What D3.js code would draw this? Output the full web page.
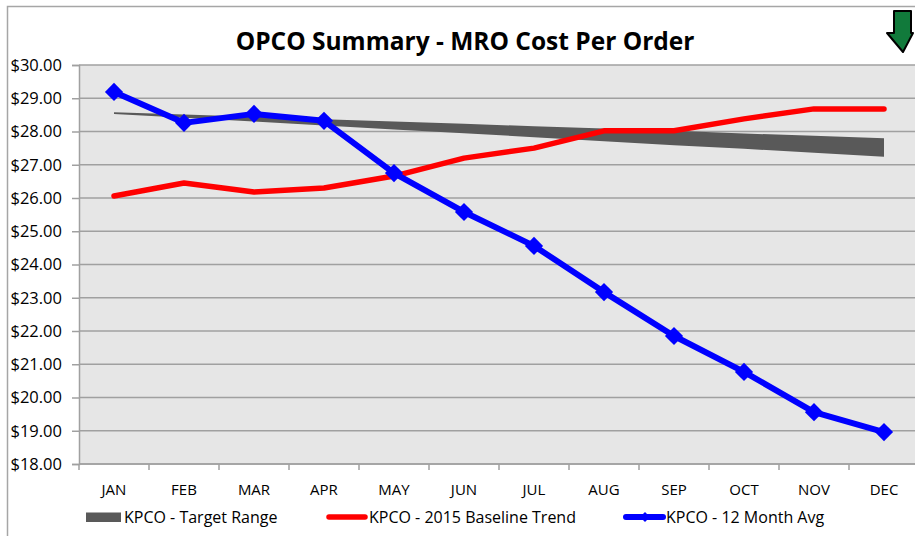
<!DOCTYPE html>
<html lang="en">
<head>
<meta charset="UTF-8">
<title>OPCO Summary - MRO Cost Per Order</title>
<script src="https://d3js.org/d3.v7.min.js"></script>
<style>
  body { margin: 0; background: #fff; }
  svg { display: block; }
</style>
</head>
<body>
<div id="chart"></div>
<script>
// data
var months = ["JAN","FEB","MAR","APR","MAY","JUN","JUL","AUG","SEP","OCT","NOV","DEC"];
var avg12 = [29.19, 28.26, 28.53, 28.32, 26.75, 25.58, 24.56, 23.17, 21.85, 20.77, 19.56, 18.96];
var baseline = [26.06, 26.45, 26.18, 26.30, 26.66, 27.20, 27.50, 28.02, 28.02, 28.38, 28.68, 28.68];
var targetLow = [28.53, 28.41, 28.30, 28.18, 28.06, 27.95, 27.83, 27.71, 27.59, 27.48, 27.36, 27.24];
var targetHigh = [28.58, 28.51, 28.44, 28.37, 28.30, 28.23, 28.16, 28.09, 28.02, 27.94, 27.87, 27.80];
var yTicks = [18, 19, 20, 21, 22, 23, 24, 25, 26, 27, 28, 29, 30];
var legendNames = ["KPCO - Target Range", "KPCO - 2015 Baseline Trend", "KPCO - 12 Month Avg"];

var W = 915, H = 536;
var margin = {top: 65, right: -4, bottom: 72, left: 79},
  width = W - margin.left - margin.right,
  height = H - margin.top - margin.bottom;

var svg = d3.select("#chart").append("svg")
  .attr("width", W)
  .attr("height", H);

// outer chart border
svg.append("rect")
  .attr("x", 7.5).attr("y", 6.5)
  .attr("width", W + 20).attr("height", H + 20)
  .attr("fill", "#fff")
  .attr("stroke", "#a6a6a6")
  .attr("stroke-width", 1.5);

var g = svg.append("g")
  .attr("transform", "translate(" + margin.left + "," + margin.top + ")");

var x = d3.scaleBand().domain(months).range([0, width]);
var y = d3.scaleLinear().domain([18, 30]).range([height, 0]);
var cx = function(d, i) { return x(months[i]) + x.bandwidth() / 2; };

// plot background
g.append("rect")
  .attr("width", width).attr("height", height)
  .attr("fill", "#e6e6e6");

// gridlines
g.selectAll(".grid")
  .data(yTicks)
  .enter().append("line")
  .attr("x1", 0).attr("x2", width)
  .attr("y1", function(d) { return y(d); })
  .attr("y2", function(d) { return y(d); })
  .attr("stroke", "#a0a0a0")
  .attr("stroke-width", 1.5);

// y axis
var yAxis = g.append("g")
  .call(d3.axisLeft(y).tickValues(yTicks).tickSize(7).tickPadding(10)
    .tickFormat(function(d) { return "$" + d3.format(".2f")(d); }));
yAxis.selectAll("line").attr("stroke", "#a0a0a0").attr("stroke-width", 1.5);
yAxis.select(".domain").attr("stroke", "#a0a0a0").attr("stroke-width", 1.5);
yAxis.selectAll("text")
  .style("font-family", "'Open Sans', sans-serif")
  .style("font-size", "16.5px")
  .attr("fill", "#000");

// x axis: ticks at band edges
var xAxis = g.append("g")
  .attr("transform", "translate(0," + height + ")");
xAxis.append("line")
  .attr("x1", 0).attr("x2", width)
  .attr("stroke", "#a0a0a0").attr("stroke-width", 1.5);
xAxis.selectAll(".xt")
  .data(months)
  .enter().append("line")
  .attr("x1", function(d) { return x(d); })
  .attr("x2", function(d) { return x(d); })
  .attr("y1", 0).attr("y2", 6)
  .attr("stroke", "#a0a0a0").attr("stroke-width", 1.5);
xAxis.selectAll(".xl")
  .data(months)
  .enter().append("text")
  .attr("x", function(d) { return x(d) + x.bandwidth() / 2; })
  .attr("y", 31)
  .attr("text-anchor", "middle")
  .style("font-family", "'Open Sans', sans-serif")
  .style("font-size", "15px")
  .text(function(d) { return d; });

// target range band
var band = d3.area()
  .x(cx)
  .y0(function(d, i) { return y(targetLow[i]); })
  .y1(function(d, i) { return y(targetHigh[i]); });
g.append("path")
  .datum(months)
  .attr("d", band)
  .attr("fill", "#595959");

// baseline trend
var line = d3.line().x(cx).y(function(d) { return y(d); });
g.append("path")
  .datum(baseline)
  .attr("d", line)
  .attr("fill", "none")
  .attr("stroke", "#ff0000")
  .attr("stroke-width", 5.5)
  .attr("stroke-linecap", "round")
  .attr("stroke-linejoin", "round");

// 12 month average
g.append("path")
  .datum(avg12)
  .attr("d", line)
  .attr("fill", "none")
  .attr("stroke", "#0000ff")
  .attr("stroke-width", 6)
  .attr("stroke-linejoin", "round");

// square diamonds (square rotated 45deg)
var diamond = d3.symbol().type(d3.symbolSquare).size(165);
g.selectAll(".mk")
  .data(avg12)
  .enter().append("path")
  .attr("transform", function(d, i) { return "translate(" + cx(d, i) + "," + y(d) + ") rotate(45)"; })
  .attr("d", diamond)
  .attr("fill", "#0000ff");

// title
svg.append("text")
  .attr("x", 465).attr("y", 50)
  .attr("text-anchor", "middle")
  .style("font-family", "'Open Sans', sans-serif")
  .style("font-weight", "700")
  .style("font-size", "24.5px")
  .text("OPCO Summary - MRO Cost Per Order");

// green down arrow
svg.append("path")
  .attr("d", "M894,11 L911,11 L911,33 L913,33 L903,52 L887,33 L894,33 Z")
  .attr("fill", "#117a3b")
  .attr("stroke", "#000")
  .attr("stroke-width", 2)
  .attr("stroke-linejoin", "round");

// legend
var lg = svg.append("g").attr("transform", "translate(0,517)");
lg.append("rect")
  .attr("x", 86).attr("y", -4.5)
  .attr("width", 35).attr("height", 9.5)
  .attr("fill", "#595959");
lg.append("line")
  .attr("x1", 329).attr("x2", 365)
  .attr("stroke", "#ff0000").attr("stroke-width", 5.5)
  .attr("stroke-linecap", "round");
lg.append("line")
  .attr("x1", 626).attr("x2", 663)
  .attr("stroke", "#0000ff").attr("stroke-width", 6)
  .attr("stroke-linecap", "round");
lg.append("path")
  .attr("transform", "translate(645,0) rotate(45)")
  .attr("d", d3.symbol().type(d3.symbolSquare).size(50))
  .attr("fill", "#0000ff");
var legendX = [124, 369, 666];
lg.selectAll(".lt")
  .data(legendNames)
  .enter().append("text")
  .attr("x", function(d, i) { return legendX[i]; })
  .attr("y", 6)
  .style("font-family", "'Open Sans', sans-serif")
  .style("font-size", "16px")
  .text(function(d) { return d; });
</script>
</body>
</html>
